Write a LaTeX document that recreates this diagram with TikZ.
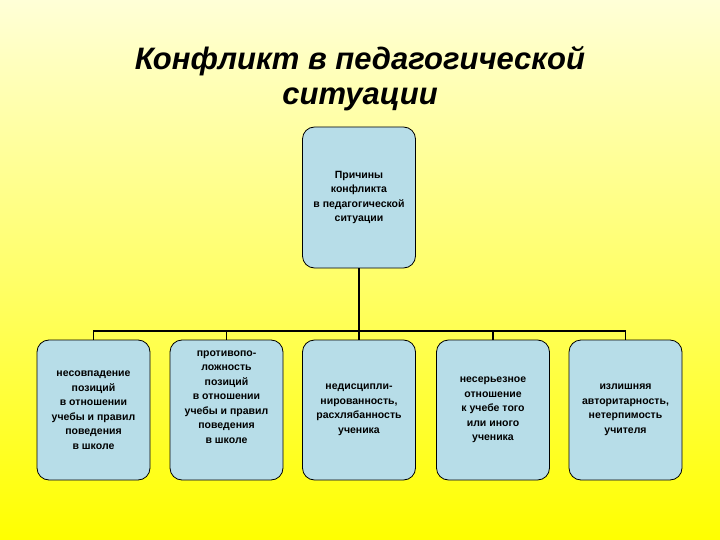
\documentclass[tikz,border=0pt]{standalone}
\usepackage{fontspec}
\setmainfont{Liberation Sans}
\begin{document}
\begin{tikzpicture}[x=1pt,y=-1pt,
  box/.style={draw=black,line width=0.8pt,fill={rgb,255:red,183;green,221;blue,232},rounded corners=12pt,minimum width=113pt,minimum height=140pt,align=center,font=\bfseries\fontsize{10.5}{14.5}\selectfont,inner sep=1pt},
  txt/.style={align=center,font=\bfseries\fontsize{10.5}{14.5}\selectfont,inner sep=1pt},
  conn/.style={line width=1.6pt}]
\shade[top color={rgb,255:red,255;green,255;blue,215},bottom color={rgb,255:red,255;green,255;blue,0}] (0,0) rectangle (720,540);
\node[font=\bfseries\itshape\fontsize{31}{35}\selectfont,align=center] (title) at (360,79) {Конфликт в педагогической\\ситуации};
\node[box,minimum height=141pt] (top) at (359,197.5) {Причины\\конфликта\\в педагогической\\ситуации};
\node[box] (b1) at (93.5,410) {несовпадение\\позиций\\в отношении\\учебы и правил\\поведения\\в школе};
\node[box] (b2) at (226.5,410) {};
\node[txt] (b2t) at (226.5,397) {противопо-\\ложность\\позиций\\в отношении\\учебы и правил\\поведения\\в школе};
\node[box] (b3) at (359,410) {недисципли-\\нированность,\\расхлябанность\\ученика};
\node[box] (b4) at (493,410) {несерьезное\\отношение\\к учебе того\\или иного\\ученика};
\node[box] (b5) at (625.5,410) {излишняя\\авторитарность,\\нетерпимость\\учителя};
\coordinate (bus) at (0,331);
\draw[conn] (top.south) -- (top.south |- bus);
\draw[conn] (b1.north) -- (b1.north |- bus) -- (b5.north |- bus) -- (b5.north);
\foreach \n in {b2,b3,b4} \draw[conn] (\n.north) -- (\n.north |- bus);
\end{tikzpicture}
\end{document}
